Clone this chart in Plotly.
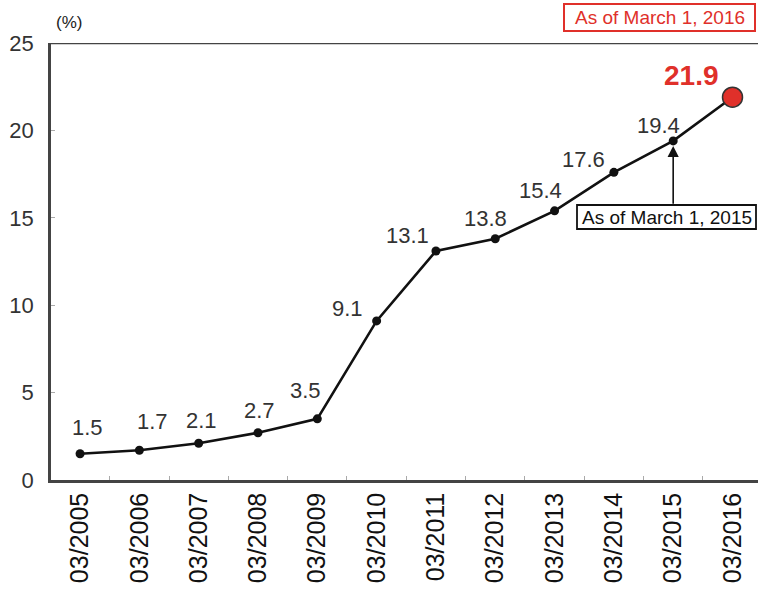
import plotly.graph_objects as go

# Share figures (%) by March of each year
periods = ["03/2005", "03/2006", "03/2007", "03/2008", "03/2009", "03/2010",
           "03/2011", "03/2012", "03/2013", "03/2014", "03/2015", "03/2016"]
share = [1.5, 1.7, 2.1, 2.7, 3.5, 9.1, 13.1, 13.8, 15.4, 17.6, 19.4, 21.9]
y_ticks = [0, 5, 10, 15, 20, 25]

# label offsets in pixels (dx, dy) relative to each point
label_offsets = [(7, 26), (13, 29), (3, 23), (1, 22), (-12, 28), (-29, 12),
                 (-28, 16), (-10, 20), (-14, 20), (-30, 13), (-15, 15), (-41, 22)]

FONT = "Liberation Sans, Arial, sans-serif"
RED = "#e0302a"
x_idx = list(range(len(periods)))

# plot-area geometry in pixels, used to place the boxed notes
L, T, W, H = 51, 43, 707, 437


def px(x):
    return (x - L) / W


def py(y):
    return (T + H - y) / H


fig = go.Figure()
fig.add_trace(go.Scatter(
    x=x_idx, y=share, mode="lines",
    line=dict(color="#111", width=2.6),
    showlegend=False, hoverinfo="skip"))
fig.add_trace(go.Scatter(
    x=x_idx[:-1], y=share[:-1], mode="markers",
    marker=dict(color="#111", size=9),
    showlegend=False, hoverinfo="skip"))
# highlighted latest point
fig.add_trace(go.Scatter(
    x=[x_idx[-1]], y=[share[-1]], mode="markers",
    marker=dict(color=RED, size=20, line=dict(color="#333", width=1.5)),
    showlegend=False, hoverinfo="skip"))

for i, (v, (dx, dy)) in enumerate(zip(share, label_offsets)):
    last = i == len(share) - 1
    fig.add_annotation(
        x=i, y=v, text=f"{v:.1f}", showarrow=False,
        xshift=dx, yshift=dy,
        font=dict(family=FONT, size=28 if last else 22,
                  color=RED if last else "#333",
                  weight="bold" if last else "normal"))

# callout for March 2015
fig.add_annotation(
    x=10, y=share[10], ax=10, ay=15.72, axref="x", ayref="y",
    xref="x", yref="y", text="", showarrow=True,
    arrowhead=2, arrowsize=1.4, arrowwidth=1.6, arrowcolor="#111",
    standoff=5)
fig.add_shape(type="rect", xref="paper", yref="paper",
              x0=px(577), x1=px(756), y0=py(229), y1=py(205),
              line=dict(color="#111", width=1.8), fillcolor="white")
fig.add_annotation(
    x=px(666.5), y=py(217), xref="paper", yref="paper",
    xanchor="center", yanchor="middle",
    text="As of March 1, 2015", showarrow=False,
    font=dict(family=FONT, size=19, color="#111"))

# date stamp, top right
fig.add_shape(type="rect", xref="paper", yref="paper",
              x0=px(564), x1=px(755), y0=py(31), y1=py(4),
              line=dict(color=RED, width=2), fillcolor="white")
fig.add_annotation(
    x=px(659.5), y=py(17.5), xref="paper", yref="paper",
    xanchor="center", yanchor="middle",
    text="As of March 1, 2016", showarrow=False,
    font=dict(family=FONT, size=19, color=RED))

# unit label
fig.add_annotation(
    x=0, y=1.0, xref="paper", yref="paper", xanchor="left", yanchor="bottom",
    xshift=3, yshift=9, text="(%)", showarrow=False,
    font=dict(family=FONT, size=17, color="#222"))

# top frame line
fig.add_shape(type="line", xref="paper", yref="y", x0=0, x1=1, y0=25, y1=25,
              line=dict(color="#444", width=2.5))

fig.update_xaxes(
    range=[-0.49, 11.43], tickmode="array", tickvals=x_idx, ticktext=periods,
    tickangle=-90, ticks="", showgrid=False, zeroline=False,
    showline=True, linecolor="#444", linewidth=2.5,
    tickfont=dict(family=FONT, size=25, color="#111"),
    minor=dict(tickmode="linear", tick0=0.5, dtick=1, ticks="inside",
               ticklen=4, tickcolor="#aaa", showgrid=False))
fig.update_yaxes(
    range=[0, 25], tickvals=y_ticks, showgrid=False, zeroline=False,
    showline=True, linecolor="#444", linewidth=2.5,
    ticks="inside", ticklen=4, tickcolor="#aaa", ticklabelstandoff=10,
    tickfont=dict(family=FONT, size=22, color="#333"))

fig.update_layout(
    width=758, height=593, plot_bgcolor="white", paper_bgcolor="white",
    margin=dict(l=L, r=0, t=T, b=593 - T - H),
)

fig.write_html("out.html")
